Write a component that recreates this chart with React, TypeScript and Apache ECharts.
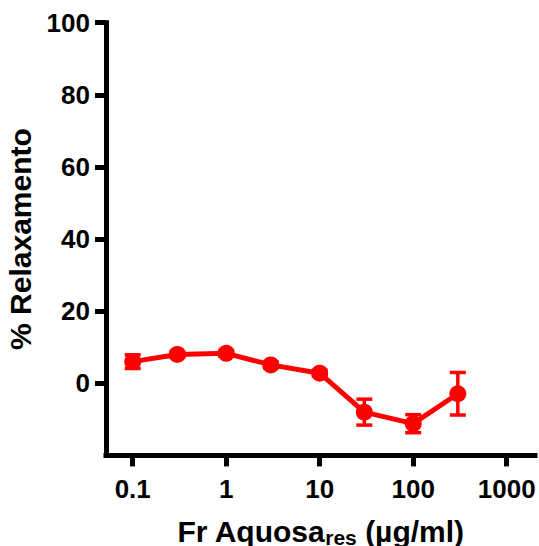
import React, { useEffect, useRef } from "react";
import * as echarts from "echarts";

const concentrations = [0.1, 0.3, 1, 3, 10, 30, 100, 300];
const relaxMean = [6.0, 8.0, 8.3, 5.1, 2.8, -8.0, -11.2, -2.9];
const relaxErr = [1.9, 0.8, 0.8, 0.8, 0.8, 3.6, 2.5, 5.9];
const xTicks = [0.1, 1, 10, 100, 1000];
const yTicks = [0, 20, 40, 60, 80, 100];

const FONT = "'Liberation Sans', Arial, Helvetica, sans-serif";
const RED = "#ff0000";

export default function App() {
  const ref = useRef<HTMLDivElement>(null);
  useEffect(() => {
    if (!ref.current) return;
    const chart = echarts.init(ref.current, undefined, { renderer: "svg" });
    const lineData = concentrations.map((c, i) => [c, relaxMean[i]]);
    const errData = concentrations.map((c, i) => [c, relaxMean[i] - relaxErr[i], relaxMean[i] + relaxErr[i]]);
    chart.setOption({
      animation: false,
      backgroundColor: "#ffffff",
      grid: { left: 106, right: 4, top: 22.7, bottom: 90.6, containLabel: false, outerBoundsMode: "none" },
      xAxis: {
        type: "log",
        logBase: 10,
        min: 0.0518,
        max: 2007,
        splitLine: { show: false },
        minorTick: { show: false },
        axisLine: { show: true, onZero: false, lineStyle: { color: "#000", width: 5, cap: "square" } },
        axisTick: { show: true, length: 11, lineStyle: { color: "#000", width: 5 }, customValues: xTicks },
        axisLabel: {
          customValues: xTicks,
          margin: 21,
          fontSize: 26,
          fontWeight: "bold",
          fontFamily: FONT,
          color: "#000",
          formatter: (v: number) => String(v),
        },
        name: "{a|Fr Aquosa}{b|res}{a| (µg/ml)}",
        nameLocation: "middle",
        nameGap: 59,
        nameTextStyle: {
          rich: {
            a: { fontSize: 30, fontWeight: "bold", fontFamily: FONT, color: "#000", lineHeight: 34 },
            b: { fontSize: 21, fontWeight: "bold", fontFamily: FONT, color: "#000", lineHeight: 16, verticalAlign: "bottom" },
          },
        },
      },
      yAxis: {
        type: "value",
        min: -20,
        max: 100,
        splitLine: { show: false },
        axisLine: { show: true, onZero: false, lineStyle: { color: "#000", width: 5, cap: "square" } },
        axisTick: { show: true, length: 11, lineStyle: { color: "#000", width: 5 }, customValues: yTicks },
        axisLabel: {
          customValues: yTicks,
          margin: 16,
          fontSize: 26,
          fontWeight: "bold",
          fontFamily: FONT,
          color: "#000",
        },
        name: "% Relaxamento",
        nameLocation: "middle",
        nameGap: 67,
        nameTextStyle: { fontSize: 30, fontWeight: "bold", fontFamily: FONT, color: "#000" },
      },
      series: [
        {
          type: "custom",
          data: errData,
          encode: { x: 0, y: [1, 2] },
          z: 1,
          renderItem: (params: any, api: any) => {
            const x = api.value(0);
            const pLo = api.coord([x, api.value(1)]);
            const pHi = api.coord([x, api.value(2)]);
            const hw = 8;
            const st = { stroke: RED, lineWidth: 3.5 };
            return {
              type: "group",
              children: [
                { type: "line", shape: { x1: pLo[0], y1: pLo[1], x2: pHi[0], y2: pHi[1] }, style: st },
                { type: "line", shape: { x1: pHi[0] - hw, y1: pHi[1], x2: pHi[0] + hw, y2: pHi[1] }, style: st },
                { type: "line", shape: { x1: pLo[0] - hw, y1: pLo[1], x2: pLo[0] + hw, y2: pLo[1] }, style: st },
              ],
            };
          },
        },
        {
          type: "line",
          data: lineData,
          z: 2,
          symbol: "circle",
          symbolSize: 17,
          lineStyle: { color: RED, width: 5 },
          itemStyle: { color: RED },
        },
      ],
    });
    return () => chart.dispose();
  }, []);
  return <div ref={ref} style={{ position: "absolute", left: 0, top: 0, width: 539, height: 546 }} />;
}
